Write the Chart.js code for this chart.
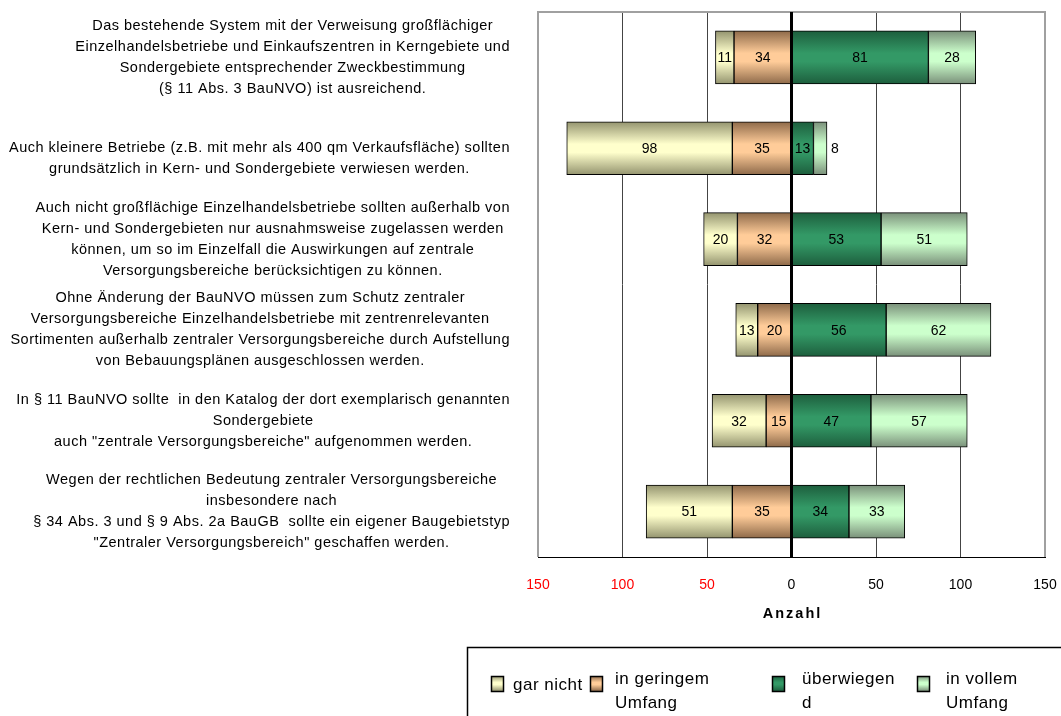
<!DOCTYPE html>
<html lang="de">
<head>
<meta charset="utf-8">
<title>Bewertung der Aussagen – Anzahl</title>
<script src="https://cdn.jsdelivr.net/npm/chart.js@4/dist/chart.umd.min.js"></script>
<style>
  html, body { margin: 0; padding: 0; background: #ffffff; }
  canvas { display: block; }
</style>
</head>
<body>
<canvas id="chart" width="1061" height="716"></canvas>
<script>
// Aussagen (one entry per bar, each split into its display lines)
const statements = [
  ["Das bestehende System mit der Verweisung großflächiger",
   "Einzelhandelsbetriebe und Einkaufszentren in Kerngebiete und",
   "Sondergebiete entsprechender Zweckbestimmung",
   "(§ 11 Abs. 3 BauNVO) ist ausreichend."],
  ["",
   "Auch kleinere Betriebe (z.B. mit mehr als 400 qm Verkaufsfläche) sollten",
   "grundsätzlich in Kern- und Sondergebiete verwiesen werden."],
  ["Auch nicht großflächige Einzelhandelsbetriebe sollten außerhalb von",
   "Kern- und Sondergebieten nur ausnahmsweise zugelassen werden",
   "können, um so im Einzelfall die Auswirkungen auf zentrale",
   "Versorgungsbereiche berücksichtigen zu können."],
  ["Ohne Änderung der BauNVO müssen zum Schutz zentraler",
   "Versorgungsbereiche Einzelhandelsbetriebe mit zentrenrelevanten",
   "Sortimenten außerhalb zentraler Versorgungsbereiche durch Aufstellung",
   "von Bebauungsplänen ausgeschlossen werden."],
  ["In § 11 BauNVO sollte  in den Katalog der dort exemplarisch genannten",
   "Sondergebiete",
   "auch \"zentrale Versorgungsbereiche\" aufgenommen werden."],
  ["Wegen der rechtlichen Bedeutung zentraler Versorgungsbereiche",
   "insbesondere nach",
   "§ 34 Abs. 3 und § 9 Abs. 2a BauGB  sollte ein eigener Baugebietstyp",
   "\"Zentraler Versorgungsbereich\" geschaffen werden."]
];

// Antworten (Anzahl)
const garNicht       = [11, 98, 20, 13, 32, 51];
const inGeringem     = [34, 35, 32, 20, 15, 35];
const ueberwiegend   = [81, 13, 53, 56, 47, 34];
const inVollemUmfang = [28,  8, 51, 62, 57, 33];

// Achse
const axisTicks = [-150, -100, -50, 0, 50, 100, 150];
const axisTitle = "Anzahl";

// Legende (Text wie umbrochen)
const legendLines = [["gar nicht"], ["in geringem", "Umfang"], ["überwiegen", "d"], ["in vollem", "Umfang"]];

const FONT = "'Liberation Sans', Arial, sans-serif";
const BAR_THICK = 53;

const palette = {
  garNicht:     { light: "#FFFFCC", dark: "#94946F" },
  inGeringem:   { light: "#FFCC99", dark: "#8E6A4A" },
  ueberwiegend: { light: "#339966", dark: "#1D5E3D" },
  inVollem:     { light: "#CCFFCC", dark: "#7A907A" }
};

function vGradient(c2d, top, bottom, col) {
  const g = c2d.createLinearGradient(0, top, 0, bottom);
  g.addColorStop(0, col.dark);
  g.addColorStop(0.42, col.light);
  g.addColorStop(0.58, col.light);
  g.addColorStop(1, col.dark);
  return g;
}

function barFill(col) {
  return (ctx) => {
    const chart = ctx.chart;
    const y = chart.scales && chart.scales.y;
    if (!y || ctx.type !== "data" || !chart.chartArea) return col.light;
    const c = y.getPixelForValue(ctx.dataIndex);
    return vGradient(chart.ctx, c - BAR_THICK / 2, c + BAR_THICK / 2, col);
  };
}

// negative stacks grow outward from zero in dataset order
const datasets = [
  { label: "in geringem Umfang", data: inGeringem.map(v => -v), col: palette.inGeringem },
  { label: "gar nicht", data: garNicht.map(v => -v), col: palette.garNicht },
  { label: "überwiegend", data: ueberwiegend, col: palette.ueberwiegend },
  { label: "in vollem Umfang", data: inVollemUmfang, col: palette.inVollem }
].map(d => ({
  label: d.label,
  data: d.data,
  col: d.col,
  backgroundColor: barFill(d.col),
  borderColor: "#000000",
  borderWidth: 1,
  borderSkipped: false,
  barThickness: BAR_THICK,
  stack: "s"
}));
const legendOrder = [1, 0, 2, 3];

// frame of the plot area, drawn under the bars
const framePlugin = {
  id: "frame",
  beforeDatasetsDraw(chart) {
    const { ctx, chartArea: a } = chart;
    ctx.save();
    ctx.strokeStyle = "#A0A0A0";
    ctx.lineWidth = 2;
    ctx.beginPath();
    ctx.moveTo(a.left, a.bottom);
    ctx.lineTo(a.left, a.top);
    ctx.lineTo(a.right, a.top);
    ctx.lineTo(a.right, a.bottom);
    ctx.stroke();
    ctx.strokeStyle = "#000000";
    ctx.lineWidth = 1;
    ctx.beginPath();
    ctx.moveTo(a.left, a.bottom + 0.5);
    ctx.lineTo(a.right + 1, a.bottom + 0.5);
    ctx.stroke();
    ctx.restore();
  }
};

// zero line over the bars, value labels, category labels, axis title, legend
const overlayPlugin = {
  id: "overlay",
  afterDatasetsDraw(chart) {
    const { ctx, chartArea: a, scales } = chart;
    const x0 = scales.x.getPixelForValue(0);
    ctx.save();
    ctx.strokeStyle = "#000000";
    ctx.lineWidth = 3;
    ctx.beginPath();
    ctx.moveTo(x0, a.top);
    ctx.lineTo(x0, a.bottom);
    ctx.stroke();

    ctx.font = "14px " + FONT;
    ctx.fillStyle = "#000000";
    ctx.textBaseline = "middle";
    chart.data.datasets.forEach((ds, di) => {
      const meta = chart.getDatasetMeta(di);
      meta.data.forEach((el, i) => {
        const v = Math.abs(ds.data[i]);
        const l = Math.min(el.x, el.base), r = Math.max(el.x, el.base);
        if (r - l < 16) {
          ctx.textAlign = "left";
          ctx.fillText(String(v), r + 4, el.y + 1);
        } else {
          ctx.textAlign = "center";
          ctx.fillText(String(v), (l + r) / 2, el.y + 1);
        }
      });
    });

    // category labels: block right-aligned, lines centred within the block
    ctx.font = "14.5px " + FONT;
    ctx.letterSpacing = "0.5px";
    ctx.fillStyle = "#000000";
    ctx.textAlign = "center";
    ctx.textBaseline = "middle";
    const lineH = 21;
    const rightEdge = a.left - 28;
    chart.data.labels.forEach((lines, i) => {
      const cy = scales.y.getPixelForValue(i);
      const maxW = Math.max(...lines.map(t => ctx.measureText(t).width));
      const cx = rightEdge - maxW / 2;
      lines.forEach((t, j) => {
        ctx.fillText(t, cx, cy + (j - (lines.length - 1) / 2) * lineH);
      });
    });

    // axis title
    ctx.font = "bold 14.5px " + FONT;
    ctx.letterSpacing = "2px";
    ctx.textAlign = "center";
    ctx.fillText(axisTitle, x0 + 1, 614);
    ctx.restore();
  },
  afterDraw(chart) {
    const { ctx } = chart;
    ctx.save();
    ctx.strokeStyle = "#000000";
    ctx.lineWidth = 1.5;
    ctx.strokeRect(467.5, 647.5, 640, 120);
    const swX = [491, 590, 772, 917];
    const txX = [513, 615, 802, 946];
    ctx.font = "17px " + FONT;
    ctx.letterSpacing = "0.5px";
    ctx.textBaseline = "alphabetic";
    ctx.textAlign = "left";
    legendOrder.forEach((di, k) => {
      const col = chart.data.datasets[di].col;
      ctx.fillStyle = vGradient(ctx, 676, 691, col);
      ctx.fillRect(swX[k], 676, 12, 15);
      ctx.strokeStyle = "#000000";
      ctx.lineWidth = 1.5;
      ctx.strokeRect(swX[k] + 0.5, 676.5, 12, 15);
      ctx.fillStyle = "#000000";
      const lines = legendLines[k];
      if (lines.length === 1) {
        ctx.fillText(lines[0], txX[k], 690);
      } else {
        lines.forEach((t, j) => ctx.fillText(t, txX[k], 684 + j * 24));
      }
    });
    ctx.restore();
  }
};

Chart.defaults.font.family = FONT;
Chart.defaults.color = "#000000";

new Chart(document.getElementById("chart"), {
  type: "bar",
  data: { labels: statements, datasets },
  options: {
    indexAxis: "y",
    responsive: false,
    animation: false,
    devicePixelRatio: 1,
    layout: { padding: { left: 538, right: 16, top: 12, bottom: 0 } },
    plugins: {
      legend: { display: false },
      tooltip: { enabled: false }
    },
    scales: {
      x: {
        type: "linear",
        min: -150,
        max: 150,
        stacked: true,
        afterBuildTicks(scale) { scale.ticks = axisTicks.map(v => ({ value: v })); },
        afterFit(scale) {
          scale.height = 159;
          scale.paddingLeft = 0;
          scale.paddingRight = 0;
        },
        grid: {
          drawTicks: false,
          lineWidth: (c) => (Math.abs(c.tick.value) === 50 || Math.abs(c.tick.value) === 100) ? 1 : 0,
          color: "#444444"
        },
        border: { display: false },
        ticks: {
          padding: 20,
          font: { size: 14 },
          color: (c) => (c.tick && c.tick.value < 0) ? "#FF0000" : "#000000",
          callback: (v) => String(Math.abs(v))
        },
        title: { display: false }
      },
      y: {
        type: "category",
        stacked: true,
        display: false
      }
    }
  },
  plugins: [framePlugin, overlayPlugin]
});
</script>
</body>
</html>
